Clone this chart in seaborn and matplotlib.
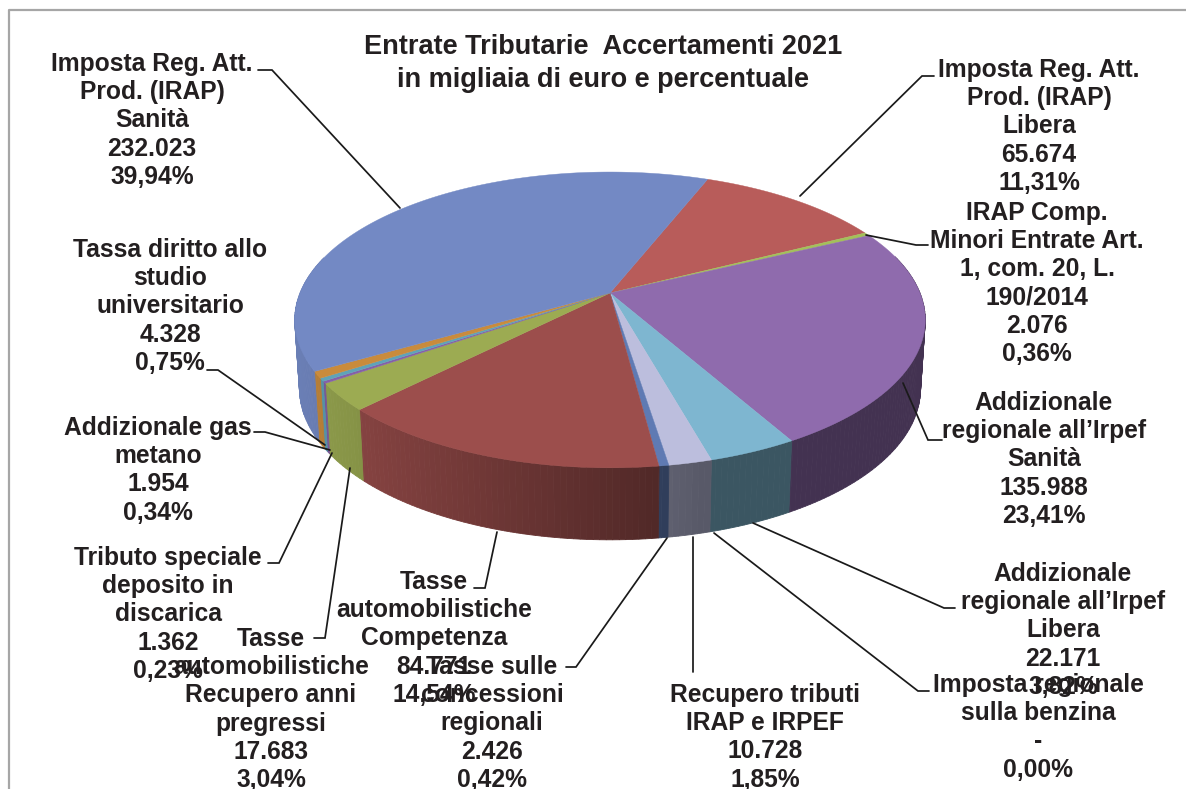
import numpy as np
import matplotlib
matplotlib.use("Agg")
import matplotlib.pyplot as plt
import seaborn as sns

# ---- data (clockwise, starting from the Libera slice) ----
names = ["Imposta Reg. Att.\nProd. (IRAP)\nLibera",
         "IRAP Comp.\nMinori Entrate Art.\n1, com. 20, L.\n190/2014",
         "Addizionale\nregionale all’Irpef\nSanità",
         "Addizionale\nregionale all’Irpef\nLibera",
         "Imposta regionale\nsulla benzina",
         "Recupero tributi\nIRAP e IRPEF",
         "Tasse sulle\nconcessioni\nregionali",
         "Tasse\nautomobilistiche\nCompetenza",
         "Tasse\nautomobilistiche\nRecupero anni\npregressi",
         "Tributo speciale\ndeposito in\ndiscarica",
         "Addizionale gas\nmetano",
         "Tassa diritto allo\nstudio\nuniversitario",
         "Imposta Reg. Att.\nProd. (IRAP)\nSanità"]
values = [65.674, 2.076, 135.988, 22.171, 0.0, 10.728, 2.426, 84.771,
          17.683, 1.362, 1.954, 4.328, 232.023]
value_labels = ["65.674", "2.076", "135.988", "22.171", "-", "10.728", "2.426",
                "84.771", "17.683", "1.362", "1.954", "4.328", "232.023"]
percents = ["11,31%", "0,36%", "23,41%", "3,82%", "0,00%", "1,85%", "0,42%",
            "14,54%", "3,04%", "0,23%", "0,34%", "0,75%", "39,94%"]
colors = ["#b85c5a", "#a3c05a", "#8f6bad", "#7eb6d0", "#b9cde5", "#bcbedd", "#5f7ab3",
          "#9c4e4c", "#9cab52", "#8560a8", "#5fa3b8", "#c98b3c", "#7389c4"]
title_lines = ["Entrate Tributarie  Accertamenti 2021", "in migliaia di euro e percentuale"]

# ---- layout ----
label_pos = [(1039, 58), (1037, 201), (1044, 391), (1063, 562), (1038, 673), (765, 683),
             (492, 655), (434, 570), (271, 627), (168, 546), (158, 416), (170, 238), (152, 52)]
leaders = [[(800, 196), (922, 76), (934, 76)],
           [(866, 235), (916, 245), (928, 245)],
           [(903, 383), (928, 440), (942, 440)],
           [(753, 523), (944, 608), (955, 608)],
           [(714, 533), (918, 691), (929, 691)],
           [(693, 537), (693, 672)],
           [(667, 538), (576, 667), (566, 667)],
           [(497, 532), (485, 588), (474, 588)],
           [(350, 468), (325, 638), (314, 638)],
           [(332, 453), (279, 563), (268, 563)],
           [(330, 450), (265, 432), (254, 432)],
           [(325, 445), (218, 370), (207, 370)],
           [(400, 208), (272, 70), (258, 70)]]
START = 21.0
CX, CY, A, B, K = 610, 293, 310, 143, 0.182
TEXT = "#231f20"

sns.set_theme(style="white")
plt.rcParams["font.family"] = ["Liberation Sans", "DejaVu Sans"]
palette = sns.color_palette(colors)


def top_xy(theta):
    # viewing bias: slices nearer the viewer are shifted slightly clockwise
    t = np.radians(theta)
    t = t + np.radians(2 - 1.5 * np.cos(t))
    u, v = np.sin(t), -np.cos(t)
    w = 1 - K * v
    return CX + A * u / w, CY + B * v / w, v


def shade(col, x):
    f = max(0.47, 0.92 - (x - 300) / 400 * 0.45)
    return tuple(c * f for c in col)


fig = plt.figure(figsize=(11.86, 7.89), dpi=100, facecolor="white")
ax = fig.add_axes([0, 0, 1, 1])
ax.set_xlim(0, 1186)
ax.set_ylim(789, 0)
ax.axis("off")

# frame (top and left edges only)
ax.plot([8.5, 8.5, 1186], [789, 9.5, 9.5], color="#a6a6a6", lw=1.6, zorder=1)

fractions = np.array(values) / sum(values)
edges = START + 360 * np.concatenate([[0], np.cumsum(fractions)])

# side wall
for i, col in enumerate(palette):
    if values[i] == 0:
        continue
    th = np.arange(edges[i], edges[i + 1], 1.0)
    th = np.append(th, edges[i + 1])
    for a0, a1 in zip(th[:-1], th[1:]):
        x0, y0, v0 = top_xy(a0)
        x1, y1, v1 = top_xy(a1)
        if max(v0, v1) < -0.25:
            continue
        xs = [x0, x1, CX + (x1 - CX) * 0.985, CX + (x0 - CX) * 0.985]
        ys = [y0, y1, y1 + 68 + 4 * v1, y0 + 68 + 4 * v0]
        c = shade(col, (x0 + x1) / 2)
        ax.fill(xs, ys, color=c, lw=0.6, zorder=2)

# top surface
for i, col in enumerate(palette):
    if values[i] == 0:
        continue
    th = np.linspace(edges[i], edges[i + 1], max(3, int(edges[i + 1] - edges[i]) + 2))
    x, y, _ = top_xy(th)
    ax.fill(np.r_[CX, x], np.r_[CY, y], color=col, lw=0.3, zorder=3)

# leader lines
for pts in leaders:
    lx, ly = zip(*pts)
    ax.plot(lx, ly, color="#1a1a1a", lw=1.25, zorder=4, solid_joinstyle="miter")

# labels
for n, v, p, (x, y) in zip(names, value_labels, percents, label_pos):
    ax.text(x, y, f"{n}\n{v}\n{p}", ha="center", va="top", ma="center", color=TEXT,
            fontsize=17.7, fontweight="bold", linespacing=1.22, zorder=5)

ax.text(603, 34, "\n".join(title_lines), ha="center", va="top", ma="center", color=TEXT,
        fontsize=19.5, fontweight="bold", linespacing=1.36, zorder=5)

fig.savefig("out.png", dpi=100, facecolor="white")
